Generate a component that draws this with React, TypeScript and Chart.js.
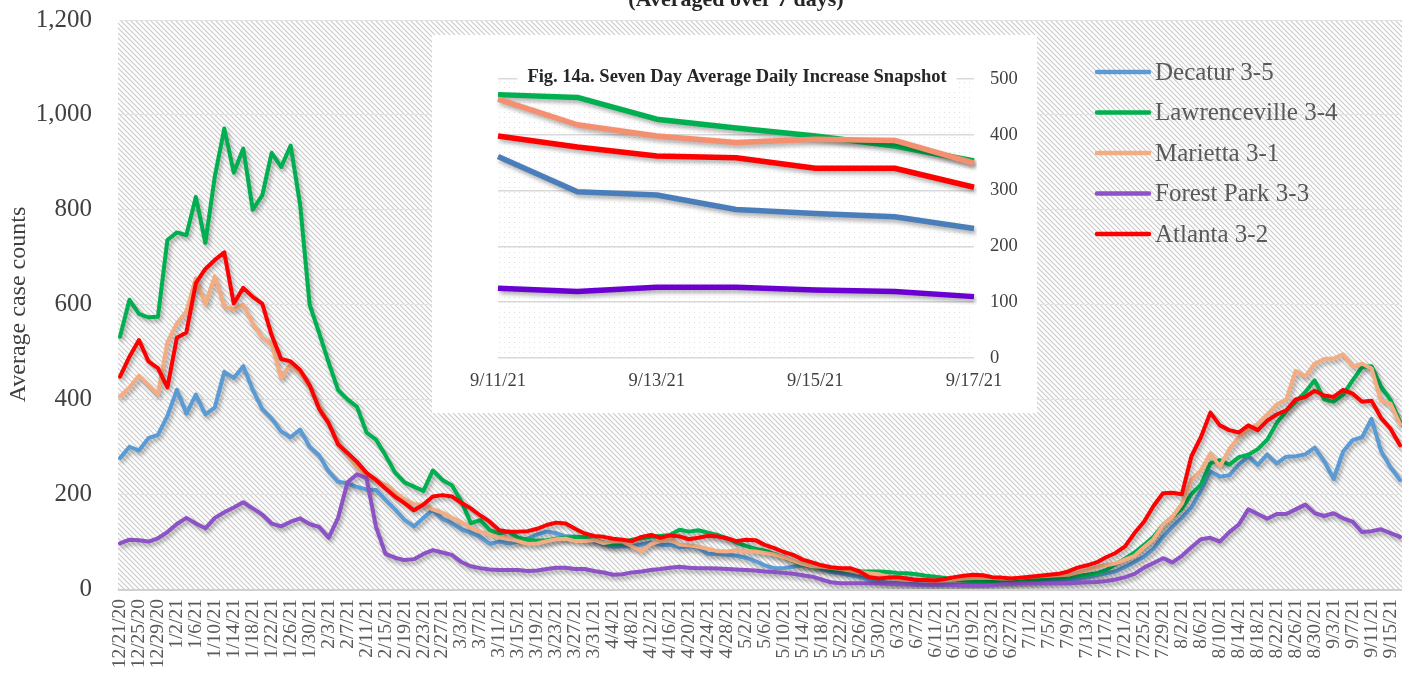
import React, { useEffect, useRef } from 'react';
import { Chart, registerables } from 'chart.js';

Chart.register(...registerables);

const FONT = '"Liberation Serif", "Times New Roman", serif';

const seriesNames = ['Decatur 3-5', 'Lawrenceville 3-4', 'Marietta 3-1', 'Forest Park 3-3', 'Atlanta 3-2'];
const mainColors = ['#5B9BD5', '#00B050', '#F4AD82', '#8C52C6', '#FF0000'];
const insetColors = ['#4A7EBB', '#00B050', '#F4906F', '#6A00D2', '#FF0000'];

// Seven-day average case counts, read every second day from 12/21/20 to 9/17/21
const decatur = [
  276, 300, 292, 318, 325, 365, 420, 370, 410, 368,
  383, 458, 445, 470, 420, 380, 360, 332, 320, 336,
  300, 282, 248, 226, 223, 215, 210, 209, 188, 168,
  146, 132, 150, 167, 148, 139, 126, 119, 110, 95,
  100, 96, 100, 106, 115, 121, 118, 111, 110, 104,
  101, 94, 89, 90, 90, 94, 98, 93, 93, 88,
  90, 87, 74, 74, 72, 70, 66, 59, 50, 44,
  44, 47, 50, 48, 42, 36, 33, 29, 25, 20,
  16, 13, 12, 12, 10, 9, 9, 9, 9, 9,
  10, 12, 13, 14, 15, 15, 15, 16, 17, 19,
  20, 21, 24, 29, 33, 37, 46, 57, 68, 85,
  110, 131, 150, 172, 208, 248, 237, 240, 262, 280,
  262, 284, 265, 279, 280, 284, 298, 270, 232, 290,
  314, 320, 359, 291, 257, 230,
];
const lawrenceville = [
  532, 610, 580, 573, 574, 736, 752, 746, 827, 730,
  870, 971, 878, 929, 800, 830, 920, 890, 935, 810,
  600, 540, 478, 420, 400, 384, 330, 315, 282, 246,
  225, 216, 207, 250, 230, 219, 185, 139, 145, 124,
  117, 121, 108, 104, 102, 103, 106, 108, 110, 109,
  104, 98, 93, 98, 104, 107, 110, 112, 114, 125,
  121, 124, 119, 114, 107, 98, 91, 85, 81, 74,
  67, 59, 52, 47, 45, 42, 40, 38, 37, 37,
  37, 36, 34, 33, 31, 28, 26, 23, 20, 18,
  17, 16, 16, 17, 18, 19, 20, 21, 23, 24,
  26, 28, 30, 33, 40, 52, 64, 77, 93, 110,
  135, 152, 170, 200, 220, 265, 272, 262, 278, 283,
  295, 315, 350, 375, 395, 415, 440, 400, 395, 410,
  440, 468, 470, 427, 399, 352,
];
const marietta = [
  406, 425, 450, 430, 410, 520, 560, 585, 655, 600,
  660, 595, 590, 600, 560, 530, 516, 445, 474, 455,
  427, 387, 350, 310, 283, 256, 240, 230, 220, 204,
  189, 179, 178, 168, 161, 150, 141, 129, 121, 114,
  109, 106, 101, 95, 96, 101, 105, 106, 101, 101,
  103, 97, 100, 100, 90, 79, 95, 101, 105, 94,
  92, 89, 85, 80, 79, 82, 79, 79, 76, 73,
  67, 60, 53, 48, 47, 45, 42, 39, 36, 33,
  31, 26, 21, 19, 19, 18, 17, 18, 20, 22,
  23, 23, 23, 22, 22, 24, 26, 27, 28, 29,
  30, 35, 40, 46, 50, 54, 62, 70, 88, 105,
  135, 152, 180, 230, 250, 286, 258, 295, 320, 335,
  348, 368, 389, 399, 460, 448, 475, 485, 486, 495,
  469, 475, 465, 397, 391, 348,
];
const forestPark = [
  96, 104, 103, 100, 107, 120, 137, 150, 138, 128,
  150, 162, 172, 183, 170, 157, 138, 132, 142, 149,
  137, 131, 108, 150, 225, 242, 234, 131, 74, 66,
  61, 63, 74, 82, 77, 72, 57, 48, 44, 41,
  40, 40, 40, 38, 39, 42, 45, 45, 42, 42,
  38, 35, 30, 31, 35, 37, 40, 42, 45, 47,
  45, 44, 44, 43, 42, 41, 40, 39, 37, 36,
  34, 32, 29, 26, 20, 14, 12, 12, 12, 12,
  12, 11, 10, 10, 9, 9, 9, 9, 8, 7,
  7, 7, 8, 10, 11, 12, 12, 12, 12, 12,
  12, 13, 14, 15, 17, 20, 25, 32, 45, 55,
  65, 56, 70, 88, 105, 108, 100, 120, 136, 168,
  158, 148, 158, 158, 168, 178, 160, 154, 160, 149,
  142, 120, 122, 126, 118, 110,
];
const atlanta = [
  448, 490, 525, 480, 466, 425, 530, 541, 645, 675,
  694, 710, 602, 635, 616, 602, 535, 485, 480, 462,
  430, 380, 350, 305, 287, 268, 245, 230, 212, 195,
  181, 166, 178, 195, 198, 195, 182, 170, 155, 142,
  124, 121, 121, 122, 127, 135, 140, 138, 127, 117,
  112, 110, 106, 104, 101, 110, 114, 108, 113, 111,
  105, 108, 112, 111, 107, 101, 104, 103, 93, 86,
  78, 72, 62, 56, 50, 46, 44, 44, 37, 25,
  22, 24, 25, 22, 19, 19, 18, 21, 25, 28,
  30, 29, 25, 24, 22, 24, 26, 28, 30, 32,
  37, 45, 50, 56, 67, 76, 90, 118, 142, 175,
  202, 203, 200, 280, 320, 372, 345, 335, 330, 345,
  335, 355, 368, 377, 400, 405, 418, 408, 405, 420,
  412, 395, 397, 361, 338, 303,
];
const mainSeries = [decatur, lawrenceville, marietta, forestPark, atlanta];

// Category labels: one every second day starting 12/21/20
const startDay = Date.UTC(2020, 11, 21);
const stepDays = 2;
const categories = decatur.map((_, i) => {
  const d = new Date(startDay + i * stepDays * 86400000);
  return `${d.getUTCMonth() + 1}/${d.getUTCDate()}/${String(d.getUTCFullYear()).slice(2)}`;
});

// Inset: Fig. 14a snapshot
const insetDates = ['9/11/21', '9/12/21', '9/13/21', '9/14/21', '9/15/21', '9/16/21', '9/17/21'];
const insetDecatur = [361, 298, 292, 266, 259, 253, 232];
const insetLawrenceville = [472, 467, 428, 412, 398, 380, 353];
const insetMarietta = [464, 418, 398, 386, 392, 390, 349];
const insetForestPark = [125, 119, 127, 127, 122, 119, 110];
const insetAtlanta = [398, 378, 362, 359, 340, 340, 306];
const insetSeries = [insetDecatur, insetLawrenceville, insetMarietta, insetForestPark, insetAtlanta];

const mainTitle = '(Averaged over 7 days)';
const insetTitle = 'Fig. 14a. Seven Day Average Daily Increase Snapshot';
const yTitle = 'Average case counts';

function makeHatch(ctx: CanvasRenderingContext2D): CanvasPattern | string {
  const c = document.createElement('canvas');
  c.width = 5;
  c.height = 5;
  const g = c.getContext('2d');
  if (!g) return '#ececec';
  g.fillStyle = '#ffffff';
  g.fillRect(0, 0, 5, 5);
  g.strokeStyle = '#cacaca';
  g.lineWidth = 1.15;
  g.beginPath();
  g.moveTo(-1, -1); g.lineTo(6, 6);
  g.moveTo(-6, -1); g.lineTo(1, 6);
  g.moveTo(4, -1); g.lineTo(11, 6);
  g.stroke();
  return ctx.createPattern(c, 'repeat') || '#ececec';
}

function makeDots(ctx: CanvasRenderingContext2D): CanvasPattern | string {
  const c = document.createElement('canvas');
  c.width = 5;
  c.height = 5;
  const g = c.getContext('2d');
  if (!g) return '#ffffff';
  g.fillStyle = '#ffffff';
  g.fillRect(0, 0, 5, 5);
  g.fillStyle = '#e2e2e2';
  g.fillRect(2, 2, 1, 1);
  return ctx.createPattern(c, 'repeat') || '#ffffff';
}

const shadowPlugin = {
  id: 'lineShadow',
  beforeDatasetsDraw(chart: any) {
    const ctx = chart.ctx;
    ctx.save();
    ctx.shadowColor = 'rgba(0,0,0,0.32)';
    ctx.shadowBlur = 4;
    ctx.shadowOffsetX = 2;
    ctx.shadowOffsetY = 3;
  },
  afterDatasetsDraw(chart: any) {
    chart.ctx.restore();
  },
};

function MainChart() {
  const ref = useRef<HTMLCanvasElement>(null);
  useEffect(() => {
    const canvas = ref.current;
    if (!canvas) return;
    const ctx0 = canvas.getContext('2d') as CanvasRenderingContext2D;
    const hatch = makeHatch(ctx0);

    const decor = {
      id: 'mainDecor',
      beforeDraw(chart: any) {
        const { ctx, chartArea: a } = chart;
        ctx.save();
        ctx.fillStyle = '#ffffff';
        ctx.fillRect(0, 0, chart.width, chart.height);
        ctx.fillStyle = hatch;
        ctx.fillRect(a.left - 2, a.top, a.right - a.left + 4, a.bottom - a.top);
        ctx.restore();
      },
      afterDraw(chart: any) {
        const { ctx, chartArea: a } = chart;
        const xs = chart.scales.x;
        ctx.save();
        // bottom axis line
        ctx.strokeStyle = '#d0d0d0';
        ctx.lineWidth = 2;
        ctx.beginPath();
        ctx.moveTo(a.left - 2, a.bottom + 1);
        ctx.lineTo(a.right + 2, a.bottom + 1);
        ctx.stroke();
        // x tick labels (vertical, every 4 days)
        ctx.fillStyle = '#595959';
        ctx.font = `19.5px ${FONT}`;
        ctx.textAlign = 'right';
        ctx.textBaseline = 'middle';
        categories.forEach((lab, i) => {
          if (i % 2 !== 0) return;
          const x = xs.getPixelForValue(i);
          ctx.save();
          ctx.translate(x, a.bottom + 10);
          ctx.rotate(-Math.PI / 2);
          ctx.fillText(lab, 0, 0);
          ctx.restore();
        });
        // legend
        seriesNames.forEach((name, i) => {
          const y = 72 + i * 40.5;
          ctx.strokeStyle = mainColors[i];
          ctx.lineWidth = 4.5;
          ctx.lineCap = 'round';
          ctx.beginPath();
          ctx.moveTo(1097, y);
          ctx.lineTo(1149, y);
          ctx.stroke();
          ctx.fillStyle = '#595959';
          ctx.font = `25px ${FONT}`;
          ctx.textAlign = 'left';
          ctx.textBaseline = 'middle';
          ctx.fillText(name, 1155, y + 1);
        });
        // title (cut at top edge)
        ctx.fillStyle = '#262626';
        ctx.font = `bold 22px ${FONT}`;
        ctx.textAlign = 'center';
        ctx.textBaseline = 'alphabetic';
        ctx.fillText(mainTitle, 736, 6);
        ctx.restore();
      },
    };

    const chart = new Chart(canvas, {
      type: 'line',
      data: {
        labels: categories,
        datasets: mainSeries.map((data, i) => ({
          label: seriesNames[i],
          data,
          borderColor: mainColors[i],
          backgroundColor: mainColors[i],
          borderWidth: 4,
          pointRadius: 0,
          pointHoverRadius: 0,
          tension: 0,
          fill: false,
          order: 5 - i,
          borderJoinStyle: 'round' as const,
          borderCapStyle: 'round' as const,
        })),
      },
      options: {
        responsive: false,
        animation: false,
        events: [],
        layout: { padding: { left: 0, right: 11, top: 20, bottom: 0 } },
        plugins: { legend: { display: false }, tooltip: { enabled: false }, title: { display: false } },
        scales: {
          x: {
            type: 'category',
            offset: false,
            grid: { display: false, drawTicks: false },
            border: { display: false },
            ticks: { display: false },
            afterFit: (s: any) => { s.height = 84; },
          },
          y: {
            min: 0,
            max: 1200,
            grid: { color: '#e2e2e2', lineWidth: 1, drawTicks: false },
            border: { display: false },
            ticks: {
              stepSize: 200,
              padding: 28,
              color: '#404040',
              font: { family: FONT, size: 25 },
              callback: (v: any) => Number(v).toLocaleString('en-US'),
            },
            title: {
              display: true,
              text: yTitle,
              color: '#404040',
              font: { family: FONT, size: 24 },
              padding: { top: 4, bottom: 0 },
            },
            afterFit: (s: any) => {
              s.width = 120;
              s.paddingTop = 0;
              s.paddingBottom = 0;
            },
          },
        },
      },
      plugins: [decor, shadowPlugin],
    } as any);
    return () => chart.destroy();
  }, []);
  return (
    <canvas
      ref={ref}
      width={1411}
      height={673}
      style={{ position: 'absolute', left: 0, top: 0, width: 1411, height: 673 }}
    />
  );
}

function InsetChart() {
  const ref = useRef<HTMLCanvasElement>(null);
  useEffect(() => {
    const canvas = ref.current;
    if (!canvas) return;
    const ctx0 = canvas.getContext('2d') as CanvasRenderingContext2D;
    const dots = makeDots(ctx0);

    const decor = {
      id: 'insetDecor',
      beforeDraw(chart: any) {
        const { ctx, chartArea: a } = chart;
        ctx.save();
        ctx.fillStyle = '#ffffff';
        ctx.fillRect(0, 0, chart.width, chart.height);
        ctx.fillStyle = dots;
        ctx.fillRect(a.left, a.top, a.right - a.left, a.bottom - a.top);
        ctx.restore();
      },
      afterDraw(chart: any) {
        const { ctx } = chart;
        ctx.save();
        ctx.font = `bold 18.5px ${FONT}`;
        const w = ctx.measureText(insetTitle).width;
        ctx.fillStyle = '#ffffff';
        ctx.fillRect(305 - w / 2 - 10, 30, w + 20, 24);
        ctx.fillStyle = '#262626';
        ctx.textAlign = 'center';
        ctx.textBaseline = 'middle';
        ctx.fillText(insetTitle, 305, 42);
        ctx.restore();
      },
    };

    const chart = new Chart(canvas, {
      type: 'line',
      data: {
        labels: insetDates,
        datasets: insetSeries.map((data, i) => ({
          label: seriesNames[i],
          data,
          borderColor: insetColors[i],
          backgroundColor: insetColors[i],
          borderWidth: 5.5,
          pointRadius: 0,
          pointHoverRadius: 0,
          tension: 0,
          fill: false,
          order: 5 - i,
          borderJoinStyle: 'round' as const,
        })),
      },
      options: {
        responsive: false,
        animation: false,
        events: [],
        layout: { padding: { left: 66, right: 0, top: 44, bottom: 0 } },
        plugins: { legend: { display: false }, tooltip: { enabled: false }, title: { display: false } },
        scales: {
          x: {
            type: 'category',
            offset: false,
            grid: { display: false, drawTicks: false },
            border: { display: false },
            ticks: {
              autoSkip: false,
              maxRotation: 0,
              minRotation: 0,
              padding: 12,
              color: '#404040',
              font: { family: FONT, size: 18.5 },
              callback: (_v: any, i: number) => (i % 2 === 0 ? insetDates[i] : ''),
            },
            afterFit: (s: any) => { s.height = 55; },
          },
          y: {
            position: 'right',
            min: 0,
            max: 500,
            grid: { color: '#d9d9d9', lineWidth: 1.5, drawTicks: false },
            border: { display: false },
            ticks: {
              stepSize: 100,
              padding: 16,
              color: '#404040',
              font: { family: FONT, size: 18.5 },
            },
            afterFit: (s: any) => {
              s.width = 63;
              s.paddingTop = 0;
              s.paddingBottom = 0;
            },
          },
        },
      },
      plugins: [decor, shadowPlugin],
    } as any);
    return () => chart.destroy();
  }, []);
  return (
    <canvas
      ref={ref}
      width={605}
      height={378}
      style={{ position: 'absolute', left: 432, top: 35, width: 605, height: 378 }}
    />
  );
}

export default function App() {
  return (
    <div style={{ position: 'absolute', left: 0, top: 0, width: 1411, height: 673, overflow: 'hidden', background: '#ffffff' }}>
      <MainChart />
      <InsetChart />
    </div>
  );
}
